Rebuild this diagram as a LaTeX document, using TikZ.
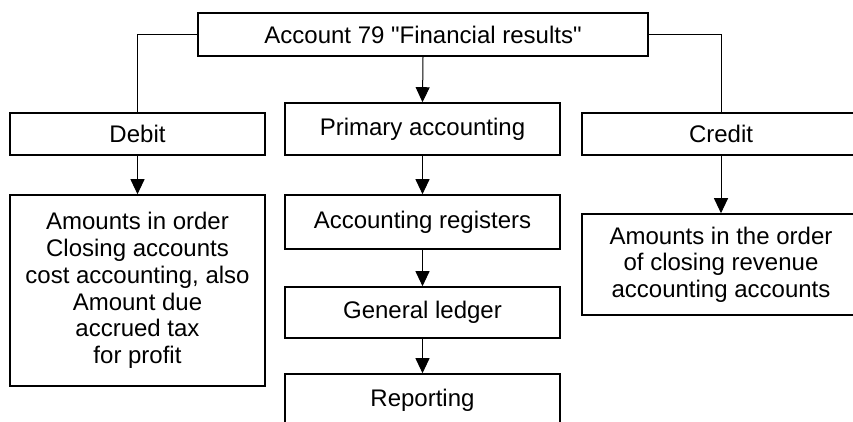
\documentclass[tikz,border=0pt]{standalone}
\usepackage{fontspec}
\setmainfont{Liberation Sans}[Ligatures=TeXOff]
\usetikzlibrary{arrows.meta}
\begin{document}
\begin{tikzpicture}[x=1pt,y=-1pt,
  box/.style={draw=black, line width=1.6pt, inner sep=0pt, align=center,
    font=\fontsize{24}{26.7}\selectfont},
  link/.style={draw=black, line width=1pt},
  arr/.style={link, -{Triangle[width=14pt,length=15pt]}}]
\useasboundingbox (0,0) rectangle (853,421);
\clip (0,0) rectangle (853,421);
\node[box, minimum width=450pt, minimum height=43pt] (top) at (423,34.5) {Account 79 "Financial results"};
\node[box, minimum width=255pt, minimum height=42pt] (debit) at (137.5,134) {Debit};
\node[box, minimum width=275pt, minimum height=52pt] (primary) at (422.5,129) {Primary accounting};
\node[box, minimum width=278pt, minimum height=42pt] (credit) at (721,134) {Credit};
\node[box, minimum width=255pt, minimum height=191pt] (dbody) at (137.5,290.5) {Amounts in order\\Closing accounts\\cost accounting, also\\Amount due\\accrued tax\\for profit};
\node[box, minimum width=275pt, minimum height=54pt] (registers) at (422.5,222) {Accounting registers};
\node[box, minimum width=275pt, minimum height=51pt] (ledger) at (422.5,312.5) {General ledger};
\node[box, minimum width=275pt, minimum height=52pt] (reporting) at (422.5,400) {Reporting};
\node[box, minimum width=278pt, minimum height=101pt] (cbody) at (721,264.5) {Amounts in the order\\of closing revenue\\accounting accounts};
\draw[link] (top.west) -| (debit.north);
\draw[link] (top.east) -| (credit.north);
\draw[arr] (top.south) -- (primary.north);
\draw[arr] (debit.south) -- (dbody.north);
\draw[arr] (credit.south) -- (cbody.north);
\draw[arr] (primary.south) -- (registers.north);
\draw[arr] (registers.south) -- (ledger.north);
\draw[arr] (ledger.south) -- (reporting.north);
\end{tikzpicture}
\end{document}
